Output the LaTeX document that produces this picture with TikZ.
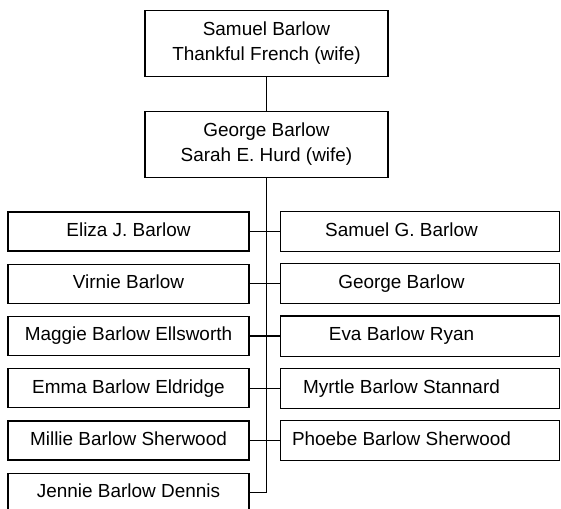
\documentclass[tikz,border=0pt]{standalone}
\usepackage{fontspec}
\setmainfont{Liberation Sans}
\tikzset{
  couple/.style={draw, minimum width=182.25pt, minimum height=49.5pt, align=center, inner sep=0pt},
  kid/.style={draw, minimum width=180.75pt, minimum height=29.25pt, inner sep=0pt, text height=10.3pt, text depth=3pt},
}
\begin{document}
\begin{tikzpicture}[x=0.75pt,y=-0.75pt,line width=0.9pt,font=\fontsize{14.2pt}{18.75pt}\selectfont]
\useasboundingbox (0,0) rectangle (561,508);
\node[couple] (sam) at (266.5,43.5) {Samuel Barlow\\Thankful French (wife)};
\node[couple] (george) at (266.5,144.5) {George Barlow\\Sarah E. Hurd (wife)};

\foreach \i/\v in {1/Eliza J. Barlow,2/Virnie Barlow,3/Maggie Barlow Ellsworth,4/Emma Barlow Eldridge,5/Millie Barlow Sherwood,6/Jennie Barlow Dennis}
  \node[kid] (l\i) at (128.5,179.25+52.25*\i) {\v};
\foreach \i/\v in {1/Samuel G. Barlow,2/George Barlow,3/Eva Barlow Ryan,4/Myrtle Barlow Stannard,5/Phoebe Barlow Sherwood}
  \node[kid,draw=none] (r\i) at (401.5,179.25+52.25*\i) {\v};
\foreach \i in {1,...,5} \draw (r\i.north west) rectangle ([xshift=27.75pt]r\i.south east);

\path[draw] (sam) -- (george);
\path[draw] (george.south) |- (l6.east);
\foreach \i in {1,...,5} \path[draw] (l\i.east) -- (r\i.west);
\end{tikzpicture}
\end{document}
